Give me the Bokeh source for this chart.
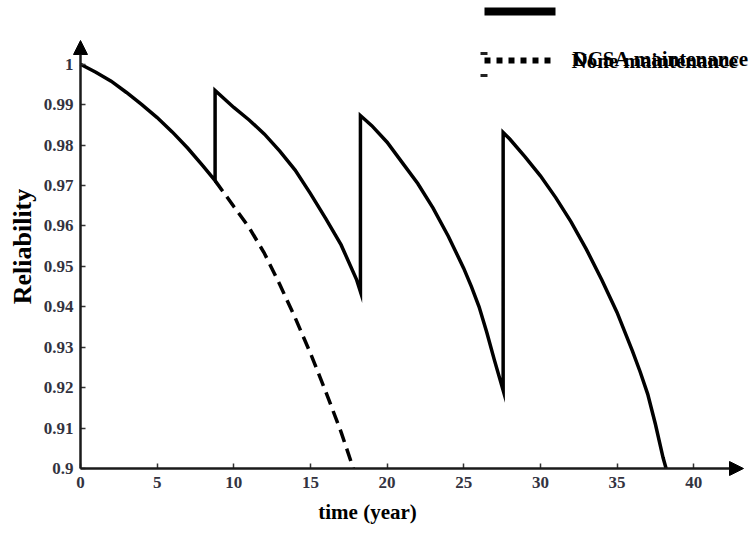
from bokeh.plotting import figure
from bokeh.models import Arrow, NormalHead, Label, FixedTicker, Range1d
from bokeh.embed import file_html
from bokeh.resources import INLINE

# ---------------- data ----------------
x_ticks = [0, 5, 10, 15, 20, 25, 30, 35, 40]
y_ticks = [0.9, 0.91, 0.92, 0.93, 0.94, 0.95, 0.96, 0.97, 0.98, 0.99, 1.0]

# DCSA maintenance (saw-tooth, vertical jumps at maintenance times)
t_dcsa = [0, 1, 2, 3, 4, 5, 6, 7, 8, 8.78,
          8.78, 10, 11, 12, 13, 14, 15, 16, 17, 18, 18.26,
          18.26, 19, 20, 21, 22, 23, 24, 25, 25.5, 26, 26.5, 27, 27.57,
          27.57, 28, 29, 30, 31, 32, 33, 34, 35, 36, 36.5, 37, 37.5, 38, 38.2]
r_dcsa = [1.0, 0.998, 0.9958, 0.993, 0.990, 0.9868, 0.9832, 0.9792, 0.9748, 0.9712,
          0.9935, 0.9893, 0.9862, 0.9827, 0.9785, 0.9738, 0.9680, 0.9618, 0.9553, 0.9468, 0.9437,
          0.9873, 0.9848, 0.9807, 0.9756, 0.9705, 0.9644, 0.9574, 0.9495, 0.9450, 0.9400, 0.9337, 0.9268, 0.9193,
          0.9831, 0.9815, 0.9771, 0.9724, 0.9670, 0.9610, 0.9542, 0.9467, 0.9386, 0.9291, 0.9240, 0.9184, 0.9110, 0.9027, 0.9]

# None maintenance (continues the first segment, dashed)
t_none = [8.78, 10, 11, 12, 13, 14, 15, 16, 17, 17.8]
r_none = [0.9712, 0.9648, 0.9596, 0.9532, 0.9455, 0.9373, 0.9285, 0.9190, 0.9090, 0.9]

legend_labels = ["DCSA maintenance", "None maintenance"]
x_title = "time (year)"
y_title = "Reliability"

# ---------------- layout helpers (canvas pixel -> data) ----------------
PX0, PXU = 80.0, 15.33      # canvas x of t=0, px per year
PY0, PYU = 468.0, 4043.0    # canvas y of R=0.9, px per unit R

def tx(px):
    return (px - PX0) / PXU

def vy(py):
    return 0.9 + (PY0 - py) / PYU

FONT = "Liberation Serif"
W, H = 751, 549

p = figure(width=W, height=H,
           x_range=Range1d(tx(0), tx(W)), y_range=Range1d(vy(H), vy(0)),
           output_backend="svg", toolbar_location=None,
           min_border_left=0, min_border_right=0, min_border_top=0, min_border_bottom=0)
p.outline_line_color = None
p.grid.visible = False
p.background_fill_color = "white"
p.border_fill_color = "white"

for ax, ticks, standoff in ((p.xaxis, x_ticks, 8), (p.yaxis, y_ticks, 7)):
    ax.ticker = FixedTicker(ticks=ticks)
    ax.axis_line_color = None
    ax.major_tick_in = 5
    ax.major_tick_out = 0
    ax.major_tick_line_color = "#333333"
    ax.major_tick_line_width = 1.5
    ax.minor_tick_line_color = None
    ax.major_label_text_font = FONT
    ax.major_label_text_font_style = "bold"
    ax.major_label_text_font_size = "17px"
    ax.major_label_text_color = "#33333f"
    ax.major_label_standoff = standoff

p.xaxis.fixed_location = 0.9
p.yaxis.fixed_location = 0
p.yaxis.major_label_overrides = {1.0: "1", 0.9: "0.9"}
p.xaxis.major_label_overrides = {t: str(t) for t in x_ticks}

# axis titles (placed where the reference has them)
p.add_layout(Label(x=tx(22), y=vy(246), text=y_title, angle=1.5708,
                   text_align="center", text_baseline="middle",
                   text_font=FONT, text_font_style="bold", text_font_size="26px",
                   text_color="black"))
p.add_layout(Label(x=tx(367), y=vy(511), text=x_title,
                   text_align="center", text_baseline="middle",
                   text_font=FONT, text_font_style="bold", text_font_size="21px",
                   text_color="black"))

# curves
p.line(t_dcsa, r_dcsa, line_color="black", line_width=3.5, line_join="miter")
p.line(t_none, r_none, line_color="black", line_width=3.5, line_dash="13 7")

# axis lines with arrow heads
p.add_layout(Arrow(end=NormalHead(size=14, fill_color="black", line_color="black"),
                   x_start=0, y_start=0.9, x_end=0, y_end=vy(40),
                   line_color="#1a1a1a", line_width=2.5))
p.add_layout(Arrow(end=NormalHead(size=14, fill_color="black", line_color="black"),
                   x_start=0, y_start=0.9, x_end=tx(743), y_end=0.9,
                   line_color="#1a1a1a", line_width=2.5))

# legend (overlapping, as in the reference)
p.add_layout(Arrow(start=None, end=None, x_start=tx(484), y_start=vy(11), x_end=tx(555), y_end=vy(11),
                   line_color="black", line_width=8))
p.add_layout(Arrow(start=None, end=None, x_start=tx(484), y_start=vy(60), x_end=tx(553), y_end=vy(60),
                   line_color="black", line_width=6, line_dash="6 6"))
p.add_layout(Arrow(start=None, end=None, x_start=tx(480), y_start=vy(53), x_end=tx(487), y_end=vy(53),
                   line_color="#222222", line_width=3))
p.add_layout(Arrow(start=None, end=None, x_start=tx(480), y_start=vy(75), x_end=tx(487), y_end=vy(75),
                   line_color="#222222", line_width=3))
p.add_layout(Label(x=tx(572), y=vy(58), text=legend_labels[0],
                   text_align="left", text_baseline="alphabetic",
                   text_font=FONT, text_font_style="bold", text_font_size="21px",
                   text_color="black"))
p.add_layout(Label(x=tx(571), y=vy(60.5), text=legend_labels[1],
                   text_align="left", text_baseline="alphabetic",
                   text_font=FONT, text_font_style="bold", text_font_size="21px",
                   text_color="black"))

open("out.html", "w").write(file_html(p, INLINE))
